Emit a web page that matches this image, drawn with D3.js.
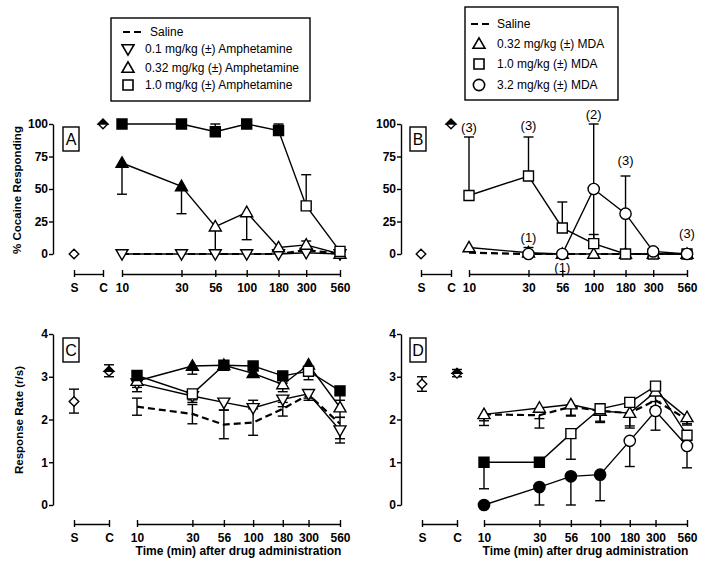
<!DOCTYPE html>
<html><head><meta charset="utf-8">
<script src="https://cdn.jsdelivr.net/npm/d3@7"></script>
<style>
body{margin:0;background:#fff}
svg{display:block}
text{font-family:"Liberation Sans",Arial,Helvetica,sans-serif;fill:#000}
</style>
</head><body>
<svg id="chart" width="704" height="574"></svg>
<script>
// ---------------- DATA ----------------
const times = [10, 30, 56, 100, 180, 300, 560];
const timeTickLabels = ["10", "30", "56", "100", "180", "300", "560"];
const controlLabels = ["S", "C"];
const pctTicks = [0, 25, 50, 75, 100];
const rateTicks = [0, 1, 2, 3, 4];

// Panel A: % cocaine responding, amphetamine
const A_control = [0, 100];
const A_saline = [0, 0, 0, 0, 0, 3, 0];
const A_amph01 = [0, 0, 0, 0, 0, 1, 0];
const A_amph01_filled = [0, 0, 0, 0, 0, 0, 0];
const A_amph032 = [70, 52, 21, 32, 5, 7, 0];
const A_amph032_filled = [1, 1, 0, 0, 0, 0, 0];
const A_amph032_lo = [46, 31, 0, 11, null, null, null];
const A_amph032_hi = [null, null, null, null, null, 10, null];
const A_amph10 = [100, 100, 94, 100, 95, 37, 2];
const A_amph10_filled = [1, 1, 1, 1, 1, 0, 0];
const A_amph10_hi = [null, null, 100, null, 100, 61, null];

// Panel B: % cocaine responding, MDA
const B_control = [0, 100];
const B_saline = [1, 0, 0, 0, 0, 0, 0];
const B_mda032 = [5, 1, 0, 0, 0, 0, 0];
const B_mda032_filled = [0, 0, 0, 0, 0, 0, 0];
const B_mda10 = [45, 60, 20, 8, 0, 0, 0];
const B_mda10_filled = [0, 0, 0, 0, 0, 0, 0];
const B_mda10_hi = [90, 90, 40, 15, null, null, null];
const B_mda32 = [null, 0, 0, 50, 31, 2, 0];
const B_mda32_filled = [0, 0, 0, 0, 0, 0, 0];
const B_mda32_lo = [null, null, null, 0, 2, null, null];
const B_mda32_hi = [null, 5, null, 100, 60, null, null];
const B_nText = ["(3)", "(3)", "(1)", "(1)", "(2)", "(3)", "(3)"];
const B_nTime = [10, 30, 30, 56, 100, 180, 560];
const B_nValue = [97.5, 99, 13, -10, 107, 72, 16];

// Panel C: response rate, amphetamine
const C_control = [2.42, 3.13];
const C_control_lo = [2.15, 3.0];
const C_control_hi = [2.71, 3.28];
const C_saline = [2.3, 2.13, 1.88, 1.93, 2.25, 2.58, 1.9];
const C_saline_lo = [2.1, 1.9, 1.55, 1.63, 2.08, 2.45, 1.45];
const C_saline_hi = [2.5, 2.35, 2.22, 2.25, 2.4, 2.68, 2.05];
const C_amph01 = [2.85, 2.55, 2.4, 2.27, 2.47, 2.6, 1.75];
const C_amph01_filled = [0, 0, 0, 0, 0, 0, 0];
const C_amph01_lo = [2.65, 2.4, 2.22, null, 2.3, 2.5, 1.55];
const C_amph01_hi = [null, null, null, 2.45, null, null, null];
const C_amph032 = [2.9, 3.25, 3.27, 3.08, 2.82, 3.28, 2.28];
const C_amph032_filled = [0, 1, 1, 1, 0, 1, 0];
const C_amph032_lo = [2.75, 3.06, null, 3.0, 2.65, null, 2.05];
const C_amph032_hi = [null, null, null, null, null, null, null];
const C_amph10 = [3.03, 2.6, 3.27, 3.25, 3.02, 3.13, 2.67];
const C_amph10_filled = [1, 0, 1, 1, 1, 0, 1];
const C_amph10_lo = [2.82, 2.46, null, null, 2.85, 2.93, 2.45];

// Panel D: response rate, MDA
const D_control = [2.83, 3.08];
const D_control_lo = [2.66, 3.0];
const D_control_hi = [3.0, 3.17];
const D_saline = [2.12, 2.1, 2.3, 2.2, 2.15, 2.45, 2.0];
const D_saline_lo = [1.86, 1.8, 2.08, 1.93, 1.8, 2.3, 1.87];
const D_saline_hi = [null, 2.02, null, null, null, null, null];
const D_mda032 = [2.12, 2.27, 2.35, 2.2, 2.15, 2.65, 2.05];
const D_mda032_filled = [0, 0, 0, 0, 0, 0, 0];
const D_mda032_lo = [1.97, null, 2.1, 1.96, 1.85, 2.42, 1.9];
const D_mda10 = [1.0, 1.0, 1.67, 2.25, 2.4, 2.78, 1.63];
const D_mda10_filled = [1, 1, 0, 0, 0, 0, 0];
const D_mda10_lo = [0.38, null, 1.07, null, null, null, null];
const D_mda32 = [0, 0.42, 0.67, 0.71, 1.5, 2.2, 1.38];
const D_mda32_filled = [1, 1, 1, 1, 0, 0, 0];
const D_mda32_lo = [null, 0, 0, 0.1, 0.9, 1.75, 0.87];

// Legends
const legendAText = ["Saline", "0.1 mg/kg (\u00B1) Amphetamine", "0.32 mg/kg (\u00B1) Amphetamine", "1.0 mg/kg (\u00B1) Amphetamine"];
const legendAShape = ["dash", "down", "up", "square"];
const legendBText = ["Saline", "0.32 mg/kg (\u00B1) MDA", "1.0 mg/kg (\u00B1) MDA", "3.2 mg/kg (\u00B1) MDA"];
const legendBShape = ["dash", "up", "square", "circle"];

const xTitle = "Time (min) after drug administration";

// ---------------- DRAWING ----------------
const svg = d3.select("#chart");
const FONT = '"Liberation Sans", Arial, Helvetica, sans-serif';

const shapePath = {
  square: "M-5,-5H5V5H-5Z",
  up: "M0,-6.2L6,4.3H-6Z",
  down: "M0,6.2L6,-4.3H-6Z",
  circle: d3.symbol(d3.symbolCircle, 100)(),
  diamond: "M0,-4.8L4.8,0L0,4.8L-4.8,0Z",
  diamondTop: "M-4.8,0L0,-4.8L4.8,0Z"
};

function drawMarker(g, shape, x, y, filled) {
  g.append("path").attr("d", shapePath[shape])
    .attr("transform", `translate(${x},${y})`)
    .attr("fill", filled ? "#000" : "#fff")
    .attr("stroke", "#000").attr("stroke-width", 1.4);
}

function errBar(g, x, yv, yEnd) {
  g.append("line").attr("x1", x).attr("x2", x).attr("y1", yv).attr("y2", yEnd)
    .attr("stroke", "#000").attr("stroke-width", 1.4);
  g.append("line").attr("x1", x - 5).attr("x2", x + 5).attr("y1", yEnd).attr("y2", yEnd)
    .attr("stroke", "#000").attr("stroke-width", 1.4);
}

function panel(cfg) {
  const g = svg.append("g");
  const y = d3.scaleLinear().domain(cfg.yDomain).range(cfg.yRange);
  const x = d3.scaleLog().domain([10, 560]).range(cfg.logRange);
  const xc = d3.scalePoint().domain(controlLabels).range(cfg.ctrlRange);

  // y axis
  const ya = g.append("g").attr("transform", `translate(${cfg.yAxisX},0)`)
    .call(d3.axisLeft(y).tickValues(cfg.yTicks).tickFormat(d3.format("d")).tickSize(4).tickSizeOuter(0).tickPadding(1));
  ya.selectAll("path,line").attr("stroke", "#000").attr("stroke-width", 1.4);
  ya.selectAll("text").attr("font-family", FONT).attr("font-size", 12).attr("font-weight", "bold").attr("fill", "#000");

  // x axes
  function styleX(ax) {
    ax.select(".domain").attr("stroke", "#000").attr("stroke-width", 1.4);
    ax.selectAll(".tick line").attr("stroke", "#000").attr("stroke-width", 1.4).attr("y1", -4).attr("y2", 3);
    ax.selectAll("text").attr("font-family", FONT).attr("font-size", 12).attr("font-weight", "bold").attr("fill", "#000").attr("dy", "0.35em").attr("y", 14);
  }
  const xa = g.append("g").attr("transform", `translate(0,${cfg.xAxisY})`)
    .call(d3.axisBottom(x).tickValues(times).tickFormat((d, i) => timeTickLabels[i]).tickSizeOuter(0));
  styleX(xa);
  const xca = g.append("g").attr("transform", `translate(0,${cfg.xAxisY})`)
    .call(d3.axisBottom(xc).tickSizeOuter(0));
  styleX(xca);

  // panel letter box
  g.append("rect").attr("x", cfg.boxX).attr("y", cfg.boxY).attr("width", 16).attr("height", 24)
    .attr("fill", "#fff").attr("stroke", "#000").attr("stroke-width", 1.4);
  g.append("text").attr("x", cfg.boxX + 8).attr("y", cfg.boxY + 18).attr("text-anchor", "middle")
    .attr("font-size", 16).text(cfg.letter);

  const markers = [];
  // controls (S & C)
  controlLabels.forEach((k, i) => {
    const cx = xc(k), cy = y(cfg.control[i]);
    if (cfg.controlLo && cfg.controlLo[i] != null) errBar(g, cx, cy, y(cfg.controlLo[i]));
    if (cfg.controlHi && cfg.controlHi[i] != null) errBar(g, cx, cy, y(cfg.controlHi[i]));
    markers.push({ shape: "diamond", x: cx, y: cy, filled: false, half: i === 1 });
  });

  cfg.series.forEach(s => {
    const pts = times.map((t, i) => ({ t, v: s.values[i], i })).filter(p => p.v != null);
    pts.forEach(p => {
      const px = x(p.t), py = y(p.v);
      if (s.lo && s.lo[p.i] != null) errBar(g, px, py, y(s.lo[p.i]));
      if (s.hi && s.hi[p.i] != null) errBar(g, px, py, y(s.hi[p.i]));
    });
    const line = d3.line().x(p => x(p.t)).y(p => y(p.v));
    g.append("path").attr("d", line(pts)).attr("fill", "none").attr("stroke", "#000")
      .attr("stroke-width", s.dashed ? 2.2 : 1.4)
      .attr("stroke-dasharray", s.dashed ? "7,4" : null);
    if (s.shape) pts.forEach(p => markers.push({ shape: s.shape, x: x(p.t), y: y(p.v), filled: s.filled && s.filled[p.i] }));
  });

  markers.forEach(m => {
    drawMarker(g, m.shape, m.x, m.y, m.filled);
    if (m.half) g.append("path").attr("d", shapePath.diamondTop)
      .attr("transform", `translate(${m.x},${m.y})`).attr("fill", "#000").attr("stroke", "#000").attr("stroke-width", 1.4);
  });

  if (cfg.notes) {
    cfg.notes.text.forEach((tx, i) => {
      g.append("text").attr("x", x(cfg.notes.time[i])).attr("y", y(cfg.notes.value[i]))
        .attr("dy", "0.35em").attr("text-anchor", "middle").attr("font-size", 13).text(tx);
    });
  }

  // x title
  if (cfg.xTitle) {
    g.append("text").attr("x", (cfg.logRange[0] + cfg.logRange[1]) / 2).attr("y", cfg.xAxisY + 31)
      .attr("text-anchor", "middle").attr("font-size", 12).attr("font-weight", "bold").text(cfg.xTitle);
  }
  return g;
}

// Panel A
panel({
  letter: "A", boxX: 63, boxY: 127,
  yAxisX: 53, yDomain: [0, 100], yRange: [254, 124], yTicks: pctTicks,
  xAxisY: 274, ctrlRange: [74, 103], logRange: [122, 340],
  control: A_control,
  series: [
    { values: A_saline, dashed: true },
    { values: A_amph01, shape: "down", filled: A_amph01_filled },
    { values: A_amph032, shape: "up", filled: A_amph032_filled, lo: A_amph032_lo, hi: A_amph032_hi },
    { values: A_amph10, shape: "square", filled: A_amph10_filled, hi: A_amph10_hi }
  ]
});
// Panel B
panel({
  letter: "B", boxX: 410, boxY: 127,
  yAxisX: 401, yDomain: [0, 100], yRange: [254, 124], yTicks: pctTicks,
  xAxisY: 274, ctrlRange: [421, 451], logRange: [469, 687],
  control: B_control,
  series: [
    { values: B_saline, dashed: true },
    { values: B_mda032, shape: "up", filled: B_mda032_filled },
    { values: B_mda10, shape: "square", filled: B_mda10_filled, hi: B_mda10_hi },
    { values: B_mda32, shape: "circle", filled: B_mda32_filled, lo: B_mda32_lo, hi: B_mda32_hi }
  ],
  notes: { text: B_nText, time: B_nTime, value: B_nValue }
});
// Panel C
panel({
  letter: "C", boxX: 63, boxY: 338,
  yAxisX: 53, yDomain: [0, 4], yRange: [505, 334], yTicks: rateTicks,
  xAxisY: 524, ctrlRange: [74, 109], logRange: [137, 340],
  control: C_control, controlLo: C_control_lo, controlHi: C_control_hi,
  xTitle: xTitle,
  series: [
    { values: C_saline, dashed: true, lo: C_saline_lo, hi: C_saline_hi },
    { values: C_amph01, shape: "down", filled: C_amph01_filled, lo: C_amph01_lo, hi: C_amph01_hi },
    { values: C_amph032, shape: "up", filled: C_amph032_filled, lo: C_amph032_lo, hi: C_amph032_hi },
    { values: C_amph10, shape: "square", filled: C_amph10_filled, lo: C_amph10_lo }
  ]
});
// Panel D
panel({
  letter: "D", boxX: 410, boxY: 338,
  yAxisX: 401, yDomain: [0, 4], yRange: [505, 334], yTicks: rateTicks,
  xAxisY: 524, ctrlRange: [422, 457], logRange: [484, 687],
  control: D_control, controlLo: D_control_lo, controlHi: D_control_hi,
  xTitle: xTitle,
  series: [
    { values: D_saline, dashed: true, lo: D_saline_lo, hi: D_saline_hi },
    { values: D_mda032, shape: "up", filled: D_mda032_filled, lo: D_mda032_lo },
    { values: D_mda10, shape: "square", filled: D_mda10_filled, lo: D_mda10_lo },
    { values: D_mda32, shape: "circle", filled: D_mda32_filled, lo: D_mda32_lo }
  ]
});

// Y titles
svg.append("text").attr("transform", "translate(17,190) rotate(-90)").attr("text-anchor", "middle")
  .attr("dy", "0.35em").attr("font-size", 11.5).attr("font-weight", "bold").text("% Cocaine Responding");
svg.append("text").attr("transform", "translate(19,420) rotate(-90)").attr("text-anchor", "middle")
  .attr("dy", "0.35em").attr("font-size", 11.5).attr("font-weight", "bold").text("Response Rate (r/s)");

// Legends
function legend(box, texts, shapes, symX, dash, textX, rowsY) {
  const g = svg.append("g");
  g.append("rect").attr("x", box[0]).attr("y", box[1]).attr("width", box[2]).attr("height", box[3])
    .attr("fill", "#fff").attr("stroke", "#000").attr("stroke-width", 1.4);
  texts.forEach((t, i) => {
    const yy = rowsY[i];
    if (shapes[i] === "dash") {
      g.append("line").attr("x1", dash[0]).attr("x2", dash[1]).attr("y1", yy).attr("y2", yy)
        .attr("stroke", "#000").attr("stroke-width", 2.2).attr("stroke-dasharray", "7,4");
    } else {
      g.append("path").attr("d", shapePath[shapes[i]]).attr("transform", `translate(${symX},${yy})`)
        .attr("fill", "#fff").attr("stroke", "#000").attr("stroke-width", 1.6);
    }
    g.append("text").attr("x", shapes[i] === "dash" ? textX[0] : textX[1]).attr("y", yy).attr("dy", "0.35em")
      .attr("font-size", 12).text(t);
  });
}
legend([111, 18, 199, 83], legendAText, legendAShape, 128, [123, 142], [150, 145], [32, 49, 68, 85]);
legend([465, 7, 153, 93], legendBText, legendBShape, 479, [471, 489], [497, 497], [24, 44, 64, 85]);
</script>
</body></html>
